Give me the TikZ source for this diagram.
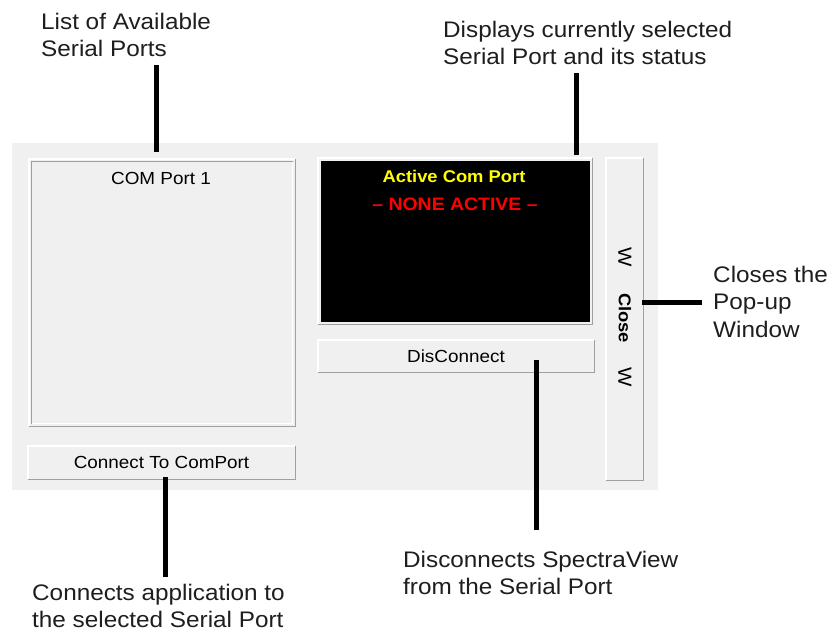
\documentclass[tikz,border=0pt]{standalone}
\usepackage{fontspec}
\setmainfont[FakeStretch=1.08]{Liberation Sans}

\definecolor{panelgray}{HTML}{F0F0F0}
\definecolor{edgegray}{HTML}{A0A0A0}
\definecolor{edgelight}{HTML}{FFFFFF}
\definecolor{labelink}{HTML}{1E1E1E}
\definecolor{lcdyellow}{HTML}{FFFF00}
\definecolor{lcdred}{HTML}{FF0000}

% raised 3D edge round a named rectangle node: light top/left, grey bottom/right
\newcommand\uiraised[1]{%
  \draw[edgelight,line width=1.5pt]
    ([xshift=.75pt,yshift=.75pt]#1.south west) |- ([xshift=-.75pt,yshift=-.75pt]#1.north east);
  \draw[edgegray,line width=1.5pt]
    ([xshift=-.75pt,yshift=-.75pt]#1.north east) |- ([xshift=.75pt,yshift=.75pt]#1.south west);
}
% sunken inner edge, inset by #2
\newcommand\uisunken[2]{%
  \draw[edgegray,line width=1.5pt]
    ([xshift=#2,yshift=#2]#1.south west) |- ([xshift=-#2,yshift=-#2]#1.north east);
  \draw[edgelight,line width=1.5pt]
    ([xshift=-#2,yshift=-#2]#1.north east) |- ([xshift=#2,yshift=#2]#1.south west);
}

\tikzset{
  widget/.style={rectangle, fill=panelgray, draw=none, inner sep=0pt, outer sep=0pt},
  uitext/.style={font=\fontsize{17.5}{21}\selectfont, text=black, inner sep=0pt},
  lcdtext/.style={font=\bfseries\fontsize{17}{20}\selectfont, inner sep=0pt, anchor=base},
  % multi-line callouts: the base anchor sits on the last line
  note/.style={font=\fontsize{22.5}{27.5}\selectfont, text=labelink, align=left,
               inner sep=0pt, anchor=base west},
  leader/.style={line width=5pt, draw=black},
}

\begin{document}
\begin{tikzpicture}[x=1pt,y=-1pt]
  \useasboundingbox[fill=white] (0,0) rectangle (833,633);

  % dialog background
  \node[widget, minimum width=646pt, minimum height=347pt] (panel) at (335,316.5) {};

  % list of available ports
  \node[widget, minimum width=268pt, minimum height=269pt] (list) at (162,292.5) {};
  \uiraised{list}
  \uisunken{list}{3.5pt}
  \node[uitext, anchor=base] (port1) at (161,184) {COM Port 1};

  % connect button
  \node[widget, uitext, minimum width=269pt, minimum height=35pt] (connect) at (161.5,462.5) {Connect To ComPort};
  \uiraised{connect}

  % active port display
  \node[widget, minimum width=276pt, minimum height=168pt] (lcd) at (455,241) {};
  \uiraised{lcd}
  \fill[black] ([xshift=4pt,yshift=3.5pt]lcd.south west) rectangle ([xshift=-3.5pt,yshift=-4pt]lcd.north east);
  \node[lcdtext, text=lcdyellow] (active) at (454,182) {Active Com Port};
  \node[lcdtext, text=lcdred, font=\bfseries\fontsize{18}{20}\selectfont] (none) at (455,210) {-- NONE ACTIVE --};

  % disconnect button
  \node[widget, uitext, minimum width=278pt, minimum height=34pt] (disc) at (456,356) {DisConnect};
  \uiraised{disc}

  % close button, vertical caption
  \node[widget, minimum width=39pt, minimum height=324pt] (close) at (624.5,319) {};
  \uiraised{close}
  \node[uitext, rotate=-90, font=\fontsize{19}{20}\selectfont] (wtop) at (625,257) {W};
  \node[uitext, rotate=-90, font=\bfseries\fontsize{17}{20}\selectfont] (closetxt) at (625,318) {Close};
  \node[uitext, rotate=-90, font=\fontsize{19}{20}\selectfont] (wbot) at (625,377) {W};

  % callout texts
  \node[note] (nList) at (41,56.5) {List of Available\\Serial Ports};
  \node[note] (nShow) at (443,64.5) {Displays currently selected\\Serial Port and its status};
  \node[note] (nConn) at (32,627.5) {Connects application to\\the selected Serial Port};
  \node[note] (nDisc) at (403,594.5) {Disconnects SpectraView\\from the Serial Port};
  \node[note] (nClose) at (713,337) {Closes the\\Pop-up\\Window};

  % leader lines
  \coordinate (aList) at (156.5,65);   \coordinate (bList) at (156.5,152);
  \coordinate (aShow) at (576,73);     \coordinate (bShow) at (576,155);
  \coordinate (aConn) at (165,577);    \coordinate (bConn) at (165,477);
  \coordinate (aDisc) at (536,530);    \coordinate (bDisc) at (536,360);
  \coordinate (aClose) at (702,302);   \coordinate (bClose) at (642,302);
  \draw[leader] (aList) -- (bList);
  \draw[leader] (aShow) -- (bShow);
  \draw[leader] (aConn) -- (bConn);
  \draw[leader] (aDisc) -- (bDisc);
  \draw[leader] (aClose) -- (bClose);
\end{tikzpicture}
\end{document}
